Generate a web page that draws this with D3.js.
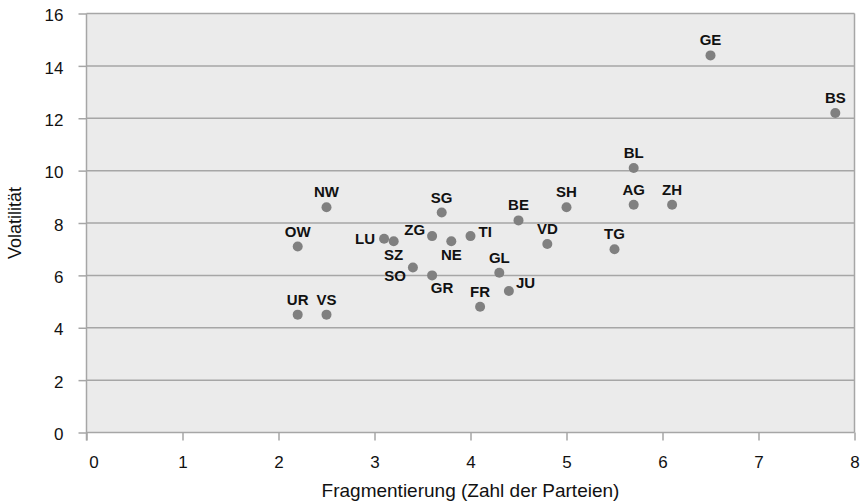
<!DOCTYPE html>
<html>
<head>
<meta charset="utf-8">
<script src="https://cdn.jsdelivr.net/npm/d3@7"></script>
<style>
  body { margin: 0; background: #fff; }
  svg { font-family: "Liberation Sans", Arial, sans-serif; }
</style>
</head>
<body>
<div class="chart"></div>
<script>
var width = 865,
    height = 501;

var margin = { top: 13.5, right: 10.5, bottom: 68.5, left: 86.5 };

// Kantone: Fragmentierung (x) und Volatilität (y)
var cantons = ["GE", "BS", "BL", "AG", "ZH", "SH", "TG", "VD", "BE", "TI", "NE", "ZG",
               "SG", "LU", "SZ", "NW", "OW", "SO", "GR", "GL", "JU", "FR", "UR", "VS"];
var fragmentation = [6.5, 7.8, 5.7, 5.7, 6.1, 5.0, 5.5, 4.8, 4.5, 4.0, 3.8, 3.6,
                     3.7, 3.1, 3.2, 2.5, 2.2, 3.4, 3.6, 4.3, 4.4, 4.1, 2.2, 2.5];
var volatility = [14.4, 12.2, 10.1, 8.7, 8.7, 8.6, 7.0, 7.2, 8.1, 7.5, 7.3, 7.5,
                  8.4, 7.4, 7.3, 8.6, 7.1, 6.3, 6.0, 6.1, 5.4, 4.8, 4.5, 4.5];
// label position relative to dot
var labelPos = ["top", "top", "top", "top", "top", "top", "top", "top", "top", "right", "bottom", "topleft",
                "top", "left", "bottom", "top", "top", "bottomleft", "bottomright", "top", "rightup", "top", "top", "top"];

var xTicks = [0, 1, 2, 3, 4, 5, 6, 7, 8];
var yTicks = [0, 2, 4, 6, 8, 10, 12, 14, 16];

var w = width - margin.left - margin.right,
    h = height - margin.top - margin.bottom;

var svg = d3.select(".chart")
  .append("svg")
    .attr("width", width)
    .attr("height", height);

var g = svg.append("g")
    .attr("transform", "translate(" + margin.left + "," + margin.top + ")");

var x = d3.scaleLinear().domain([0, 8]).range([0, w]);
var y = d3.scaleLinear().domain([0, 16]).range([h, 0]);

// plot background
g.append("rect")
  .attr("width", w)
  .attr("height", h)
  .attr("fill", "#ebebeb");

// horizontal gridlines
g.selectAll(".grid")
  .data(yTicks)
  .enter()
  .append("line")
  .attr("x1", 0)
  .attr("x2", w)
  .attr("y1", function(d) { return y(d); })
  .attr("y2", function(d) { return y(d); })
  .attr("stroke", "#a6a6a6")
  .attr("stroke-width", 1.5);

// right border
g.append("line")
  .attr("x1", w).attr("x2", w)
  .attr("y1", 0).attr("y2", h)
  .attr("stroke", "#a6a6a6")
  .attr("stroke-width", 1.5);

// axes
var yAxis = g.append("g")
  .call(d3.axisLeft(y).tickValues(yTicks).tickSize(8).tickPadding(15));

var xAxis = g.append("g")
  .attr("transform", "translate(0," + h + ")")
  .call(d3.axisBottom(x).tickValues(xTicks).tickSize(8).tickPadding(15));

[yAxis, xAxis].forEach(function(a) {
  a.select(".domain").remove();
  a.selectAll("line").attr("stroke", "#a6a6a6").attr("stroke-width", 1.5);
  a.selectAll("text")
    .style("font-size", "17px")
    .style("font-family", '"Liberation Sans", Arial, sans-serif')
    .attr("fill", "#111");
});
yAxis.selectAll("text").attr("dy", "0.42em");
// the "0" on the x axis sits a little right of its tick, clear of the y axis
xAxis.selectAll("text").filter(function(d) { return d === 0; }).attr("x", 7);

// axis lines
g.append("line")
  .attr("x1", 0).attr("x2", 0)
  .attr("y1", 0).attr("y2", h + 8)
  .attr("stroke", "#a6a6a6")
  .attr("stroke-width", 1.5);

// axis titles
svg.append("text")
  .attr("x", margin.left + w / 2)
  .attr("y", 497)
  .attr("text-anchor", "middle")
  .style("font-size", "19px")
  .attr("fill", "#111")
  .text("Fragmentierung (Zahl der Parteien)");

svg.append("text")
  .attr("transform", "translate(21," + (margin.top + h / 2) + ") rotate(-90)")
  .attr("text-anchor", "middle")
  .style("font-size", "18px")
  .attr("fill", "#111")
  .text("Volatilität");

// data points
var data = cantons.map(function(c, i) {
  return { label: c, x: fragmentation[i], y: volatility[i], pos: labelPos[i] };
});

g.selectAll(".dot")
  .data(data)
  .enter()
  .append("circle")
  .attr("cx", function(d) { return x(d.x); })
  .attr("cy", function(d) { return y(d.y); })
  .attr("r", 5)
  .attr("fill", "#808080");

var offsets = {
  top: [0, -10, "middle"],
  bottom: [0, 19, "middle"],
  left: [-9, 5, "end"],
  right: [8, 1, "start"],
  rightup: [7, -3, "start"],
  topleft: [-7, -1, "end"],
  bottomleft: [-7, 13, "end"],
  bottomright: [10, 18, "middle"]
};

g.selectAll(".lbl")
  .data(data)
  .enter()
  .append("text")
  .attr("x", function(d) { return x(d.x) + offsets[d.pos][0]; })
  .attr("y", function(d) { return y(d.y) + offsets[d.pos][1]; })
  .attr("text-anchor", function(d) { return offsets[d.pos][2]; })
  .style("font-size", "15px")
  .style("font-weight", "bold")
  .attr("fill", "#111")
  .text(function(d) { return d.label; });
</script>
</body>
</html>
